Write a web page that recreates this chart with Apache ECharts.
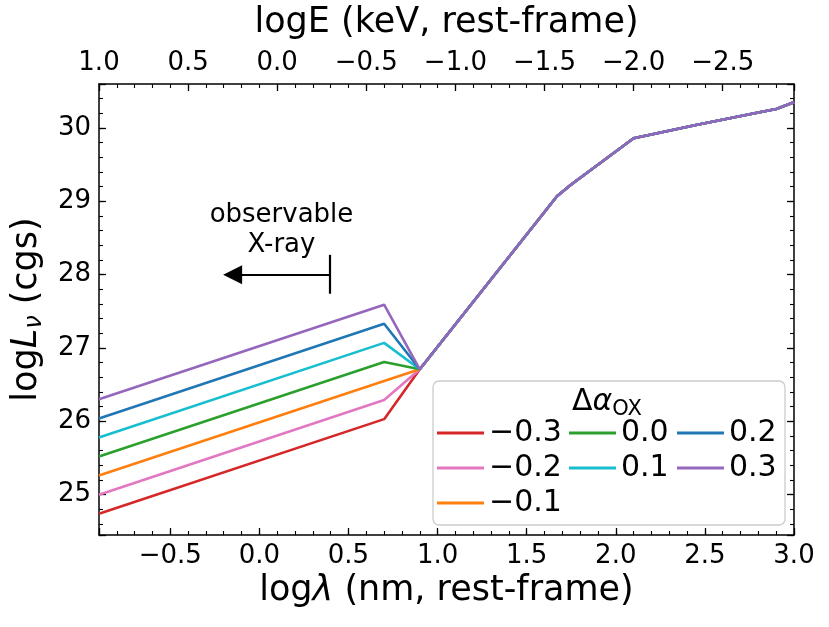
<!DOCTYPE html>
<html>
<head>
<meta charset="utf-8">
<script src="https://cdn.jsdelivr.net/npm/echarts@6/dist/echarts.min.js"></script>
<style>
  html, body { margin: 0; padding: 0; background: #fff; }
  #container { width: 829px; height: 627px; }
</style>
</head>
<body>
<div id="container"></div>
<script>
// values
var deltaAlpha = ['−0.3', '−0.2', '−0.1', '0.0', '0.1', '0.2', '0.3'];
var lineColors = ['#d62728', '#e377c2', '#ff7f0e', '#2ca02c', '#17becf', '#1f77b4', '#9467bd'];

// X-ray part, differs per delta alpha
var leftX = [-0.9, 0.7];
var lumAtEdge = [24.74, 25.00, 25.26, 25.52, 25.78, 26.04, 26.30];
var lumAtKink = [26.03, 26.29, 26.55, 26.81, 27.07, 27.33, 27.59];

// UV/optical part, same for all
var sharedX = [0.9, 1.67, 1.75, 2.1, 2.45, 2.8, 2.9, 3.0];
var sharedLum = [26.71, 29.07, 29.23, 29.86, 30.04, 30.21, 30.26, 30.35];

// "observable X-ray" arrow (data units); the arrow end marks the head's middle
var xrayEdge = 0.394;
var arrowEnd = -0.15;
var arrowLevel = 28.0;
var barSpan = [27.74, 28.27];
var noteAt = [0.124, 28.61];

var FONT = 'DejaVu Sans';

function fmt(v) {
  return v.toFixed(1).replace('-', '−');
}
function onStep(v, step) {
  var k = v / step;
  return Math.abs(k - Math.round(k)) < 1e-6;
}

var myChart = echarts.init(document.getElementById('container'));

var series = deltaAlpha.map(function (name, i) {
  var pts = [[leftX[0], lumAtEdge[i]], [leftX[1], lumAtKink[i]]];
  for (var j = 0; j < sharedX.length; j++) pts.push([sharedX[j], sharedLum[j]]);
  return {
    name: name,
    type: 'line',
    data: pts,
    symbol: 'none',
    color: lineColors[i],
    lineStyle: { width: 2.6, color: lineColors[i] },
    xAxisIndex: 0,
    yAxisIndex: 0
  };
});

series.push({
  name: 'note',
  type: 'line',
  data: [],
  silent: true,
  xAxisIndex: 0,
  yAxisIndex: 0,
  markLine: {
    silent: true,
    animation: false,
    symbol: ['none', 'triangle'],
    symbolSize: 19,
    label: { show: false },
    lineStyle: { color: '#000', width: 2.2, type: 'solid' },
    data: [
      [{ coord: [xrayEdge, arrowLevel] }, { coord: [arrowEnd, arrowLevel] }],
      [{ coord: [xrayEdge, barSpan[0]], symbol: 'none' }, { coord: [xrayEdge, barSpan[1]], symbol: 'none' }]
    ]
  },
  markPoint: {
    silent: true,
    animation: false,
    symbol: 'circle',
    symbolSize: 1,
    itemStyle: { color: 'rgba(0,0,0,0)' },
    label: {
      show: true, position: 'inside', formatter: 'observable\nX-ray',
      color: '#000', fontFamily: FONT, fontSize: 26, lineHeight: 30
    },
    data: [{ coord: noteAt }]
  }
});

var spine = { show: true, onZero: false, lineStyle: { color: '#000', width: 1.5 } };
var noSplit = { show: false };

function minorAxis(pos, step, isX) {
  var ax = {
    type: 'value', position: pos,
    axisLine: { show: false, onZero: false },
    axisTick: { show: true, inside: true, length: 4, lineStyle: { color: '#000', width: 1.1 } },
    axisLabel: { show: false },
    splitLine: noSplit
  };
  if (isX) { ax.min = -0.9; ax.max = 3.0; } else { ax.min = 24.45; ax.max = 30.6; }
  ax.minInterval = step; ax.maxInterval = step;
  return ax;
}

var legendCommon = {
  orient: 'vertical',
  padding: 0,
  itemGap: 5,
  itemWidth: 47,
  itemHeight: 3,
  icon: 'rect',
  selectedMode: false,
  textStyle: { fontFamily: FONT, fontSize: 30, color: '#000', lineHeight: 30 }
};

var options = {
  animation: false,
  textStyle: { fontFamily: FONT },
  grid: { left: 99, right: 35, top: 84, bottom: 92 },
  legend: [
    Object.assign({ data: deltaAlpha.slice(0, 3), left: 437, top: 418 }, legendCommon),
    Object.assign({ data: deltaAlpha.slice(3, 5), left: 569, top: 418 }, legendCommon),
    Object.assign({ data: deltaAlpha.slice(5, 7), left: 677, top: 418 }, legendCommon)
  ],
  graphic: [
    {
      type: 'rect', z: 3,
      shape: { x: 433, y: 381, width: 352, height: 144, r: 6 },
      style: { fill: 'rgba(255,255,255,0.85)', stroke: '#cccccc', lineWidth: 1.3 }
    },
    {
      type: 'text', z: 5, x: 607, y: 402,
      style: {
        text: '{a|Δ}{b|α}{c|OX}',
        align: 'center', verticalAlign: 'middle',
        rich: {
          a: { fontFamily: FONT, fontSize: 30, lineHeight: 36, fill: '#000' },
          b: { fontFamily: FONT, fontSize: 30, lineHeight: 36, fontStyle: 'italic', fill: '#000' },
          c: { fontFamily: FONT, fontSize: 21, lineHeight: 20, verticalAlign: 'bottom', fill: '#000' }
        }
      }
    }
  ],
  xAxis: [
    {
      type: 'value', position: 'bottom', min: -0.9, max: 3.0, minInterval: 0.5, maxInterval: 0.5,
      name: 'log{i|λ} (nm, rest-frame)', nameLocation: 'middle', nameGap: 30,
      nameTextStyle: { fontFamily: FONT, fontSize: 35, color: '#000',
        rich: { i: { fontFamily: FONT, fontSize: 35, fontStyle: 'italic', color: '#000' } } },
      axisLine: spine,
      axisTick: { show: true, inside: true, length: 7, lineStyle: { color: '#000', width: 1.3 } },
      axisLabel: { fontFamily: FONT, fontSize: 26, color: '#000', margin: 8,
        formatter: function (v) { return onStep(v, 0.5) ? fmt(v) : ''; } },
      splitLine: noSplit
    },
    minorAxis('bottom', 0.1, true),
    {
      type: 'value', position: 'top', min: -0.9, max: 3.0, interval: 0.5,
      name: 'logE (keV, rest-frame)', nameLocation: 'middle', nameGap: 44,
      nameTextStyle: { fontFamily: FONT, fontSize: 35, color: '#000' },
      axisLine: spine,
      axisTick: { show: true, inside: true, length: 7, lineStyle: { color: '#000', width: 1.3 } },
      axisLabel: { fontFamily: FONT, fontSize: 26, color: '#000', margin: 8,
        formatter: function (v) { var e = 0.1 - v; return onStep(e, 0.5) ? fmt(e) : ''; } },
      splitLine: noSplit
    },
    minorAxis('top', 0.1, true)
  ],
  yAxis: [
    {
      type: 'value', position: 'left', min: 24.45, max: 30.6, minInterval: 1, maxInterval: 1,
      name: '{n|log}{i|L}{s|ν}{n| (cgs)}', nameLocation: 'middle', nameGap: 44,
      nameTextStyle: {
        fontFamily: FONT, fontSize: 35, color: '#000',
        rich: {
          n: { fontFamily: FONT, fontSize: 35, lineHeight: 40, color: '#000' },
          i: { fontFamily: FONT, fontSize: 35, lineHeight: 40, fontStyle: 'italic', color: '#000' },
          s: { fontFamily: FONT, fontSize: 24, lineHeight: 26, fontStyle: 'italic', verticalAlign: 'bottom', color: '#000' }
        }
      },
      axisLine: spine,
      axisTick: { show: true, inside: true, length: 7, lineStyle: { color: '#000', width: 1.3 } },
      axisLabel: { fontFamily: FONT, fontSize: 26, color: '#000', margin: 8,
        formatter: function (v) { return onStep(v, 1) ? String(Math.round(v)) : ''; } },
      splitLine: noSplit
    },
    minorAxis('left', 0.2, false),
    {
      type: 'value', position: 'right', min: 24.45, max: 30.6, minInterval: 1, maxInterval: 1,
      axisLine: spine,
      axisTick: { show: true, inside: true, length: 7, lineStyle: { color: '#000', width: 1.3 } },
      axisLabel: { show: false },
      splitLine: noSplit
    },
    minorAxis('right', 0.2, false)
  ],
  series: series
};

myChart.setOption(options);
</script>
</body>
</html>
